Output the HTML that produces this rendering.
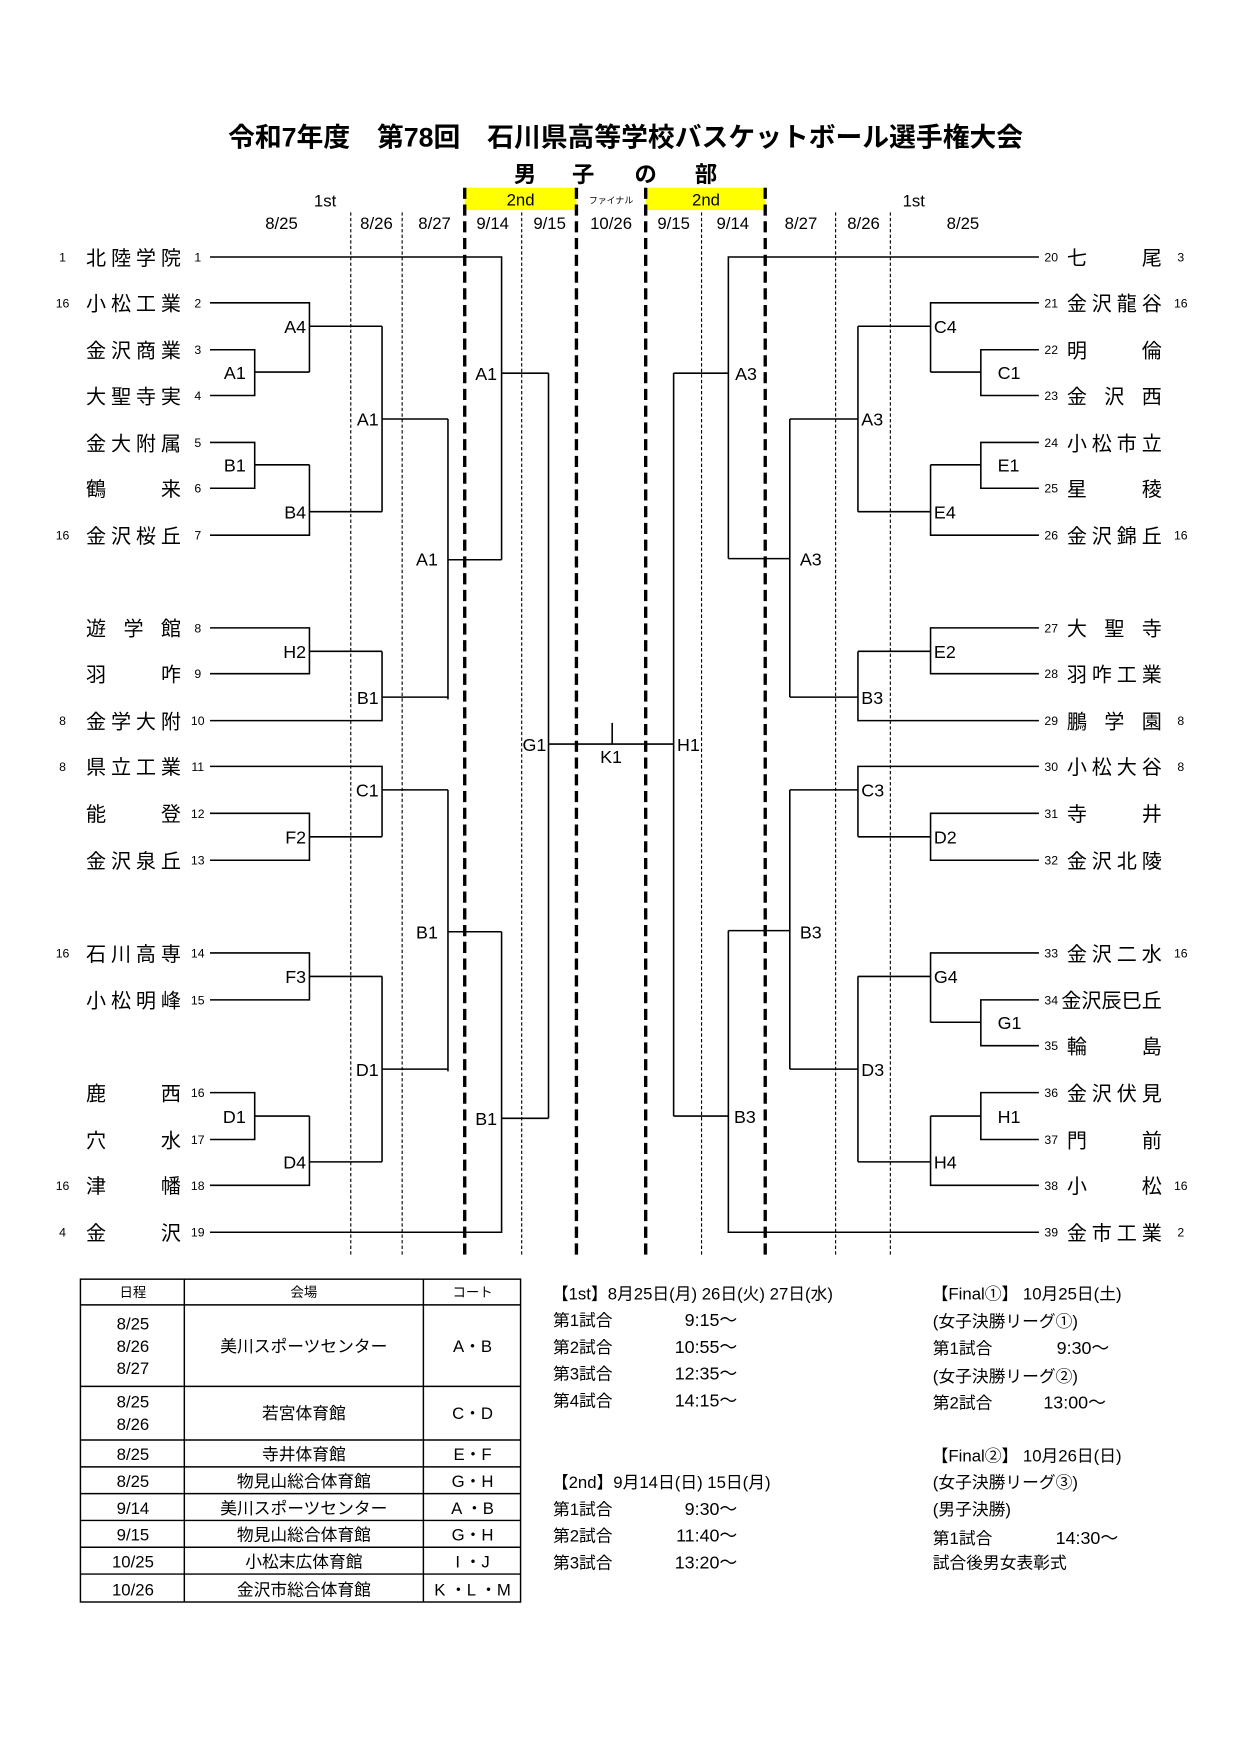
<!DOCTYPE html>
<html><head><meta charset="utf-8"><style>
html,body{margin:0;padding:0;background:#fff;}
svg{display:block;}
text{font-family:"Liberation Sans","Noto Sans CJK JP",sans-serif;fill:#000;}
</style></head><body>
<svg width="1240" height="1754" viewBox="0 0 1110 1570" xmlns="http://www.w3.org/2000/svg">
<rect x="0" y="0" width="1110" height="1570" fill="#fff"/>
<text x="560" y="131" font-size="24" font-weight="bold" text-anchor="middle">令和7年度　第78回　石川県高等学校バスケットボール選手権大会</text>
<g font-size="20" font-weight="bold" text-anchor="middle"><text x="470" y="163">男</text><text x="522" y="163">子</text><text x="578" y="163">の</text><text x="632" y="163">部</text></g>
<rect x="416" y="168" width="100" height="20" fill="#ffff00"/>
<rect x="578" y="168" width="107" height="20" fill="#ffff00"/>
<g font-size="15" text-anchor="middle">
<text x="466" y="184">2nd</text><text x="632" y="184">2nd</text>
<text x="291" y="185">1st</text><text x="818" y="185">1st</text>
<text x="252" y="205">8/25</text><text x="337" y="205">8/26</text><text x="389" y="205">8/27</text>
<text x="441" y="205">9/14</text><text x="492" y="205">9/15</text><text x="547" y="205">10/26</text>
<text x="603" y="205">9/15</text><text x="656" y="205">9/14</text><text x="717" y="205">8/27</text>
<text x="773" y="205">8/26</text><text x="862" y="205">8/25</text>
</g>
<text x="547" y="182" font-size="8" text-anchor="middle">ファイナル</text>
<g stroke="#000" stroke-width="1" stroke-dasharray="3,2">
<line x1="314" y1="190" x2="314" y2="1125"/><line x1="360" y1="190" x2="360" y2="1125"/>
<line x1="467" y1="190" x2="467" y2="1125"/><line x1="628" y1="190" x2="628" y2="1125"/>
<line x1="748" y1="190" x2="748" y2="1125"/><line x1="797" y1="190" x2="797" y2="1125"/>
</g>
<g stroke="#000" stroke-width="3" stroke-dasharray="10,5">
<line x1="416" y1="168" x2="416" y2="1125"/><line x1="516" y1="168" x2="516" y2="1125"/>
<line x1="578" y1="168" x2="578" y2="1125"/><line x1="685" y1="168" x2="685" y2="1125"/>
</g>
<g stroke="#000" stroke-width="1.4" fill="none">
<path d="M188 230H449V501M449 334H491"/>
<path d="M188 271H277V333M188 313H228V354H188M228 333H277M277 292H342"/>
<path d="M188 396H228V437H188M228 416H277M188 479H277V416M277 458H342"/>
<path d="M342 292V458M342 375H401M401 375V626M401 501H449"/>
<path d="M188 562H277V603H188M277 583H342M188 645H342V583M342 624H401"/>
<path d="M188 686H342V749M188 728H277V770H188M277 749H342M342 707H401"/>
<path d="M401 707V959M401 834H449"/>
<path d="M188 853H277V895H188M277 874H342"/>
<path d="M188 978H228V1020H188M228 999H277M188 1061H277V999M277 1040H342M342 874V1040M342 957H401"/>
<path d="M188 1103H449V834M449 1001H491M491 334V1001M491 666H603M548 647V666"/>
<path d="M930 230H652V500M652 334H603M652 500H707"/>
<path d="M930 271H833V333M930 313H878V354H930M878 333H833M833 292H768"/>
<path d="M930 396H878V437H930M878 416H833M930 479H833V416M833 458H768M768 292V458M768 375H707M707 375V624"/>
<path d="M930 562H833V603H930M833 583H768M930 645H768V583M768 624H707"/>
<path d="M930 686H768V749M930 728H833V770H930M833 749H768M768 707H707M707 707V957M707 833H652"/>
<path d="M930 853H833V915M930 895H878V936H930M878 915H833M833 874H768"/>
<path d="M930 978H878V1020H930M878 999H833M930 1061H833V999M833 1040H768M768 874V1040M768 957H707"/>
<path d="M930 1103H652V833M652 999H603M603 334V999"/>
</g>
<g font-size="16" text-anchor="end">
<text x="274" y="298">A4</text><text x="220" y="339">A1</text><text x="220" y="422">B1</text><text x="274" y="464">B4</text>
<text x="339" y="381">A1</text><text x="392" y="506">A1</text><text x="274" y="589">H2</text><text x="339" y="630">B1</text>
<text x="339" y="713">C1</text><text x="274" y="755">F2</text><text x="392" y="840">B1</text><text x="274" y="880">F3</text>
<text x="220" y="1005">D1</text><text x="274" y="1046">D4</text><text x="339" y="963">D1</text>
<text x="445" y="340">A1</text><text x="445" y="1007">B1</text><text x="489" y="672">G1</text>
</g>
<text x="547" y="683" font-size="16" text-anchor="middle">K1</text>
<g font-size="16">
<text x="836" y="298">C4</text><text x="893" y="339">C1</text><text x="771" y="381">A3</text><text x="716" y="506">A3</text>
<text x="658" y="340">A3</text><text x="893" y="422">E1</text><text x="836" y="464">E4</text><text x="836" y="589">E2</text>
<text x="771" y="630">B3</text><text x="771" y="713">C3</text><text x="836" y="755">D2</text><text x="716" y="840">B3</text>
<text x="836" y="880">G4</text><text x="893" y="921">G1</text><text x="771" y="963">D3</text><text x="893" y="1005">H1</text>
<text x="836" y="1046">H4</text><text x="657" y="1005">B3</text><text x="606" y="672">H1</text>
</g>
<g font-size="18" lengthAdjust="spacing">
<text x="77" y="237" textLength="85">北陸学院</text>
<text x="77" y="278" textLength="85">小松工業</text>
<text x="77" y="320" textLength="85">金沢商業</text>
<text x="77" y="361" textLength="85">大聖寺実</text>
<text x="77" y="403" textLength="85">金大附属</text>
<text x="77" y="444" textLength="85">鶴来</text>
<text x="77" y="486" textLength="85">金沢桜丘</text>
<text x="77" y="569" textLength="85">遊学館</text>
<text x="77" y="610" textLength="85">羽咋</text>
<text x="77" y="652" textLength="85">金学大附</text>
<text x="77" y="693" textLength="85">県立工業</text>
<text x="77" y="735" textLength="85">能登</text>
<text x="77" y="777" textLength="85">金沢泉丘</text>
<text x="77" y="860" textLength="85">石川高専</text>
<text x="77" y="902" textLength="85">小松明峰</text>
<text x="77" y="985" textLength="85">鹿西</text>
<text x="77" y="1027" textLength="85">穴水</text>
<text x="77" y="1068" textLength="85">津幡</text>
<text x="77" y="1110" textLength="85">金沢</text>
<text x="955" y="237" textLength="85">七尾</text>
<text x="955" y="278" textLength="85">金沢龍谷</text>
<text x="955" y="320" textLength="85">明倫</text>
<text x="955" y="361" textLength="85">金沢西</text>
<text x="955" y="403" textLength="85">小松市立</text>
<text x="955" y="444" textLength="85">星稜</text>
<text x="955" y="486" textLength="85">金沢錦丘</text>
<text x="955" y="569" textLength="85">大聖寺</text>
<text x="955" y="610" textLength="85">羽咋工業</text>
<text x="955" y="652" textLength="85">鵬学園</text>
<text x="955" y="693" textLength="85">小松大谷</text>
<text x="955" y="735" textLength="85">寺井</text>
<text x="955" y="777" textLength="85">金沢北陵</text>
<text x="955" y="860" textLength="85">金沢二水</text>
<text x="950" y="902" textLength="90">金沢辰巳丘</text>
<text x="955" y="943" textLength="85">輪島</text>
<text x="955" y="985" textLength="85">金沢伏見</text>
<text x="955" y="1027" textLength="85">門前</text>
<text x="955" y="1068" textLength="85">小松</text>
<text x="955" y="1110" textLength="85">金市工業</text>
</g>
<g font-size="11" text-anchor="middle">
<text x="56" y="234">1</text><text x="56" y="275">16</text><text x="56" y="483">16</text><text x="56" y="649">8</text>
<text x="56" y="690">8</text><text x="56" y="857">16</text><text x="56" y="1065">16</text><text x="56" y="1107">4</text>
<text x="1057" y="234">3</text><text x="1057" y="275">16</text><text x="1057" y="483">16</text><text x="1057" y="649">8</text>
<text x="1057" y="690">8</text><text x="1057" y="857">16</text><text x="1057" y="1065">16</text><text x="1057" y="1107">2</text>
<text x="177" y="234">1</text><text x="177" y="275">2</text><text x="177" y="317">3</text><text x="177" y="358">4</text>
<text x="177" y="400">5</text><text x="177" y="441">6</text><text x="177" y="483">7</text><text x="177" y="566">8</text>
<text x="177" y="607">9</text><text x="177" y="649">10</text><text x="177" y="690">11</text><text x="177" y="732">12</text>
<text x="177" y="774">13</text><text x="177" y="857">14</text><text x="177" y="899">15</text><text x="177" y="982">16</text>
<text x="177" y="1024">17</text><text x="177" y="1065">18</text><text x="177" y="1107">19</text>
<text x="941" y="234">20</text><text x="941" y="275">21</text><text x="941" y="317">22</text><text x="941" y="358">23</text>
<text x="941" y="400">24</text><text x="941" y="441">25</text><text x="941" y="483">26</text><text x="941" y="566">27</text>
<text x="941" y="607">28</text><text x="941" y="649">29</text><text x="941" y="690">30</text><text x="941" y="732">31</text>
<text x="941" y="774">32</text><text x="941" y="857">33</text><text x="941" y="899">34</text><text x="941" y="940">35</text>
<text x="941" y="982">36</text><text x="941" y="1024">37</text><text x="941" y="1065">38</text><text x="941" y="1107">39</text>
</g>
<g stroke="#000" stroke-width="1.3" fill="none">
<rect x="72" y="1145" width="394" height="289"/>
<path d="M165 1145V1434M379 1145V1434M72 1168H466M72 1241H466M72 1289H466M72 1313H466M72 1337H466M72 1361H466M72 1385H466M72 1409H466"/>
</g>
<g font-size="12" text-anchor="middle">
<text x="119" y="1161">日程</text><text x="272" y="1161">会場</text><text x="423" y="1161">コート</text>
</g>
<g font-size="15" text-anchor="middle">
<text x="119" y="1190">8/25</text><text x="119" y="1210">8/26</text><text x="119" y="1230">8/27</text>
<text x="272" y="1210">美川スポーツセンター</text><text x="423" y="1210">A・B</text>
<text x="119" y="1260">8/25</text><text x="119" y="1280">8/26</text>
<text x="272" y="1270">若宮体育館</text><text x="423" y="1270">C・D</text>
<text x="119" y="1307">8/25</text><text x="272" y="1307">寺井体育館</text><text x="423" y="1307">E・F</text>
<text x="119" y="1331">8/25</text><text x="272" y="1331">物見山総合体育館</text><text x="423" y="1331">G・H</text>
<text x="119" y="1355">9/14</text><text x="272" y="1355">美川スポーツセンター</text><text x="423" y="1355">A ・B</text>
<text x="119" y="1379">9/15</text><text x="272" y="1379">物見山総合体育館</text><text x="423" y="1379">G・H</text>
<text x="119" y="1403">10/25</text><text x="272" y="1403">小松末広体育館</text><text x="423" y="1403">I ・J</text>
<text x="119" y="1428">10/26</text><text x="272" y="1428">金沢市総合体育館</text><text x="423" y="1428">K ・L ・M</text>
</g>
<g font-size="15">
<text x="494" y="1163">【1st】8月25日(月) 26日(火) 27日(水)</text>
<text x="495" y="1187">第1試合</text><text x="495" y="1211">第2試合</text><text x="495" y="1235">第3試合</text><text x="495" y="1259">第4試合</text>
<text x="494" y="1332">【2nd】9月14日(日) 15日(月)</text>
<text x="495" y="1356">第1試合</text><text x="495" y="1380">第2試合</text><text x="495" y="1404">第3試合</text>
<text x="834" y="1163">【Final①】 10月25日(土)</text>
<text x="835" y="1188">(女子決勝リーグ①)</text>
<text x="835" y="1212">第1試合</text>
<text x="835" y="1237">(女子決勝リーグ②)</text>
<text x="835" y="1261">第2試合</text>
<text x="834" y="1308">【Final②】 10月26日(日)</text>
<text x="835" y="1332">(女子決勝リーグ③)</text>
<text x="835" y="1356">(男子決勝)</text>
<text x="835" y="1382">第1試合</text>
<text x="835" y="1404">試合後男女表彰式</text>
</g>
<g font-size="16" text-anchor="end">
<text x="660" y="1187">9:15～</text><text x="660" y="1211">10:55～</text><text x="660" y="1235">12:35～</text><text x="660" y="1259">14:15～</text>
<text x="660" y="1356">9:30～</text><text x="660" y="1380">11:40～</text><text x="660" y="1404">13:20～</text>
<text x="993" y="1212">9:30～</text><text x="990" y="1261">13:00～</text><text x="1001" y="1382">14:30～</text>
</g>
</svg>
</body></html>
